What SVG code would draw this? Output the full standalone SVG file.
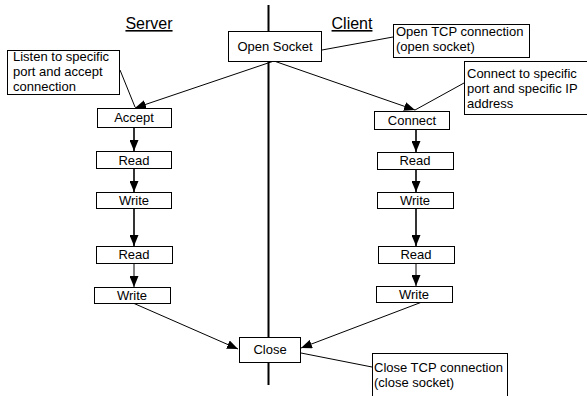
<svg xmlns="http://www.w3.org/2000/svg" width="587" height="396" viewBox="0 0 587 396">
<style>
text{font-family:"Liberation Sans",Arial,sans-serif;font-size:13px;fill:#000}
.c{text-anchor:middle}
.h{font-size:16px;text-decoration:underline}
.box{fill:#fff;stroke:#000;stroke-width:1}
.ln{fill:none;stroke:#000;stroke-width:1}
.v{fill:none;stroke:#000;stroke-width:1.6}
</style>
<defs>
<marker id="ah" markerUnits="userSpaceOnUse" markerWidth="11" markerHeight="9" refX="11" refY="4.5" orient="auto">
<path d="M0,0 L11,4.5 L0,9 z" fill="#000"/>
</marker>
</defs>
<rect width="587" height="396" fill="#fff"/>
<line x1="268.5" y1="5" x2="268.5" y2="385" stroke="#000" stroke-width="2"/>
<text class="h c" x="149" y="29">Server</text>
<text class="h c" x="352" y="29">Client</text>
<g id="connectors">
<line class="ln" x1="274" y1="61" x2="135" y2="108" marker-end="url(#ah)"/>
<line class="ln" x1="274" y1="61" x2="415" y2="110" marker-end="url(#ah)"/>
<line class="ln" x1="120" y1="70" x2="135" y2="107"/>
<line class="ln" x1="464" y1="83" x2="415" y2="110"/>
<line class="ln" x1="322" y1="50" x2="393" y2="37"/>
<line class="v" x1="134" y1="127" x2="134" y2="151" marker-end="url(#ah)"/>
<line class="v" x1="134" y1="168" x2="134" y2="192" marker-end="url(#ah)"/>
<line class="v" x1="134" y1="208" x2="134" y2="246" marker-end="url(#ah)"/>
<line class="ln" x1="134" y1="263" x2="134" y2="287" marker-end="url(#ah)"/>
<line class="v" x1="416" y1="129" x2="416" y2="152" marker-end="url(#ah)"/>
<line class="v" x1="416" y1="169" x2="416" y2="192" marker-end="url(#ah)"/>
<line class="v" x1="416" y1="208" x2="416" y2="246" marker-end="url(#ah)"/>
<line class="ln" x1="416" y1="263" x2="416" y2="286" marker-end="url(#ah)"/>
<line class="ln" x1="133" y1="303" x2="238" y2="349" marker-end="url(#ah)"/>
<line class="ln" x1="422" y1="302" x2="301" y2="348" marker-end="url(#ah)"/>
<line class="ln" x1="301" y1="353" x2="372" y2="367"/>
</g>
<g id="open-socket"><rect class="box" x="228.5" y="31.5" width="93" height="30"/><text class="c" x="275" y="51">Open Socket</text></g>
<g id="note-open"><rect class="box" x="393.5" y="24.5" width="136" height="33"/><text x="396" y="36">Open TCP connection</text><text x="396" y="51">(open socket)</text></g>
<g id="note-listen"><rect class="box" x="7.5" y="50.5" width="112" height="44"/><text x="13" y="61">Listen to specific</text><text x="13" y="76">port and accept</text><text x="13" y="91">connection</text></g>
<g id="note-connect"><rect class="box" x="464.5" y="61.5" width="125" height="53"/><text x="467" y="78">Connect to specific</text><text x="467" y="93">port and specific IP</text><text x="467" y="108">address</text></g>
<g id="accept"><rect class="box" x="97.5" y="108.5" width="74" height="19"/><text class="c" x="134" y="122">Accept</text></g>
<g id="s-read1"><rect class="box" x="96.5" y="151.5" width="75" height="17"/><text class="c" x="134" y="165">Read</text></g>
<g id="s-write1"><rect class="box" x="96.5" y="192.5" width="75" height="16"/><text class="c" x="134" y="205">Write</text></g>
<g id="s-read2"><rect class="box" x="96.5" y="246.5" width="76" height="17"/><text class="c" x="134" y="259">Read</text></g>
<g id="s-write2"><rect class="box" x="94.5" y="287.5" width="76" height="16"/><text class="c" x="132" y="300">Write</text></g>
<g id="connect"><rect class="box" x="374.5" y="111.5" width="75" height="18"/><text class="c" x="412" y="125">Connect</text></g>
<g id="c-read1"><rect class="box" x="377.5" y="152.5" width="76" height="17"/><text class="c" x="415" y="165">Read</text></g>
<g id="c-write1"><rect class="box" x="377.5" y="192.5" width="76" height="16"/><text class="c" x="415" y="205">Write</text></g>
<g id="c-read2"><rect class="box" x="378.5" y="246.5" width="76" height="17"/><text class="c" x="416" y="259">Read</text></g>
<g id="c-write2"><rect class="box" x="376.5" y="286.5" width="76" height="16"/><text class="c" x="414" y="299">Write</text></g>
<g id="close"><rect class="box" x="239.5" y="337.5" width="61" height="25"/><text class="c" x="270" y="354">Close</text></g>
<g id="note-close"><rect class="box" x="372.5" y="353.5" width="135" height="50"/><text x="374" y="372">Close TCP connection</text><text x="374" y="387">(close socket)</text></g>
</svg>
